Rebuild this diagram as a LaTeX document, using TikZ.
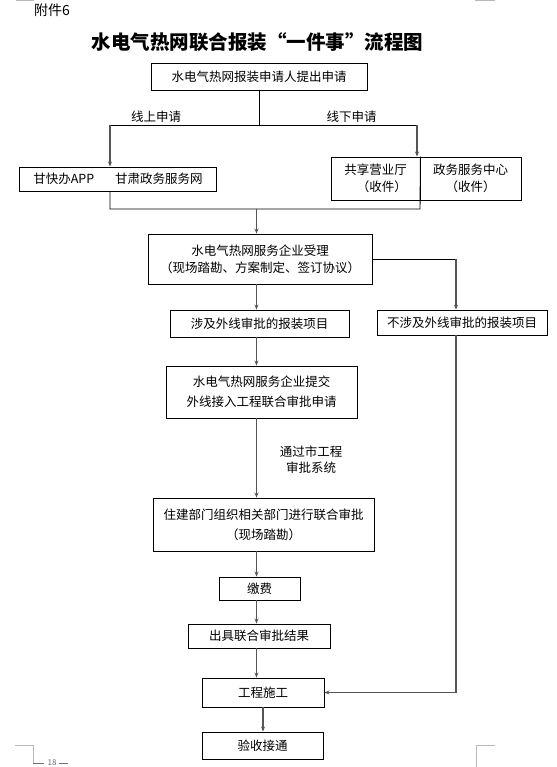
\documentclass[tikz,border=0pt]{standalone}
\usepackage{fontspec}
\setmainfont{Noto Sans CJK SC}
\usetikzlibrary{positioning, arrows.meta, calc}
\definecolor{lnkgray}{RGB}{85,85,85}
\definecolor{markgray}{RGB}{185,185,185}
\definecolor{pagegray}{RGB}{110,110,125}
\tikzset{
    procbox/.style={rectangle, draw=black, line width=0.9pt, inner sep=0pt, align=center, font=\fontsize{12.5}{17}\selectfont},
    arr/.style={-{Stealth[length=5pt, width=4pt]}, line width=1.3pt, color=lnkgray},
    plain/.style={line width=0.9pt, color=black},
    lbl/.style={font=\fontsize{12.5}{16}\selectfont, align=center, inner sep=0pt},
    cropmark/.style={line width=0.8pt, color=markgray}
}
\begin{document}
\begin{tikzpicture}[x=1pt, y=-1pt]
    \useasboundingbox (0,0) rectangle (556,767);

    % heading
    \node[anchor=west, inner sep=0pt, font=\fontsize{14}{16}\selectfont] (annex) at (34,10) {附件6};
    \node[inner sep=0pt, font=\fontsize{19.5}{22}\selectfont\bfseries] (title) at (257.5,42) {水电气热网联合报装“一件事”流程图};

    % boxes
    \node[procbox, minimum width=216pt, minimum height=27pt] (apply) at (259,76.5) {水电气热网报装申请人提出申请};
    \node[procbox, minimum width=197pt, minimum height=24pt] (online) at (118,179) {甘快办APP\hspace{21pt}甘肃政务服务网};
    \node[procbox, minimum width=89pt, minimum height=43pt, align=right] (hall) at (375.5,178.5) {共享营业厅\\（收件）};
    \node[procbox, minimum width=101pt, minimum height=43pt] (govsvc) at (470.5,178.5) {政务服务中心\\（收件）};
    \node[procbox, minimum width=224pt, minimum height=50pt] (accept) at (260,259) {水电气热网服务企业受理\\（现场踏勘、方案制定、签订协议）};
    \node[procbox, minimum width=179pt, minimum height=27pt] (ext) at (259.5,323.5) {涉及外线审批的报装项目};
    \node[procbox, minimum width=170pt, minimum height=25pt] (noext) at (462,322.5) {不涉及外线审批的报装项目};
    \node[procbox, minimum width=191pt, minimum height=52pt, font=\fontsize{12.5}{20}\selectfont] (submit) at (261.5,392) {水电气热网服务企业提交\\外线接入工程联合审批申请};
    \node[procbox, minimum width=221pt, minimum height=53pt, font=\fontsize{12.5}{20}\selectfont] (joint) at (263.5,524.5) {住建部门组织相关部门进行联合审批\\（现场踏勘）};
    \node[procbox, minimum width=81pt, minimum height=23pt] (fee) at (259.5,588.5) {缴费};
    \node[procbox, minimum width=142pt, minimum height=24pt] (result) at (259,636) {出具联合审批结果};
    \node[procbox, minimum width=122pt, minimum height=29pt] (build) at (263,692.5) {工程施工};
    \node[procbox, minimum width=121pt, minimum height=27pt] (handover) at (262.5,745.5) {验收接通};

    % labels
    \node[lbl] (lonl) at (156,117) {线上申请};
    \node[lbl] (loff) at (351.5,117) {线下申请};
    \node[lbl] (lsys) at (311,460) {通过市工程\\审批系统};

    % helper coordinates
    \coordinate (forkL) at (110,125);
    \coordinate (forkR) at (417,125);
    \coordinate (mergeL) at (110,209);
    \coordinate (mergeR) at (420,209);
    \coordinate (spine) at (256.5,0);
    \coordinate (rail) at (456,0);

    % connectors
    \draw[plain] (apply.south) -- (apply.south |- forkL);
    \draw[plain] (forkL) -- (forkR);
    \draw[arr] (forkL) -- (forkL |- online.north);
    \draw[arr] (forkR) -- (forkR |- hall.north);
    \draw[plain] (hall.north east) -- (mergeR) -- (mergeL) -- (online.south -| mergeL);
    \draw[arr] (mergeL -| spine) -- (accept.north -| spine);
    \draw[arr] (accept.south -| spine) -- (ext.north -| spine);
    \draw[plain] (accept.east) -- (accept.east -| rail);
    \draw[arr] (accept.east -| rail) -- (noext.north -| rail);
    \draw[arr] (ext.south -| spine) -- (submit.north -| spine);
    \draw[arr] (submit.south -| spine) -- (joint.north -| spine);
    \draw[arr] (joint.south -| spine) -- (fee.north -| spine);
    \draw[arr] (fee.south -| spine) -- (result.north -| spine);
    \draw[arr] (result.south -| spine) -- (build.north -| spine);
    \draw[arr] (build.south) -- (build.south |- handover.north);
    \draw[arr] (noext.south -| rail) |- (build.east);

    % page marks
    \draw[cropmark] (16,0.5) -- (34,0.5);
    \draw[cropmark] (475,0.5) -- (495,0.5);
    \draw[cropmark] (15,745) -- (33,745) -- (33,763);
    \draw[cropmark] (476,767) -- (476,745) -- (495,745);
    \node[inner sep=0pt, font=\fontsize{8}{9}\selectfont, text=pagegray] (pgno) at (52,763) {18};
    \draw[line width=0.8pt, color=pagegray] (33,763) -- ($(pgno.west)+(-3,0)$);
    \draw[line width=0.8pt, color=pagegray] ($(pgno.east)+(2,0)$) -- ++(9,0);
\end{tikzpicture}
\end{document}
